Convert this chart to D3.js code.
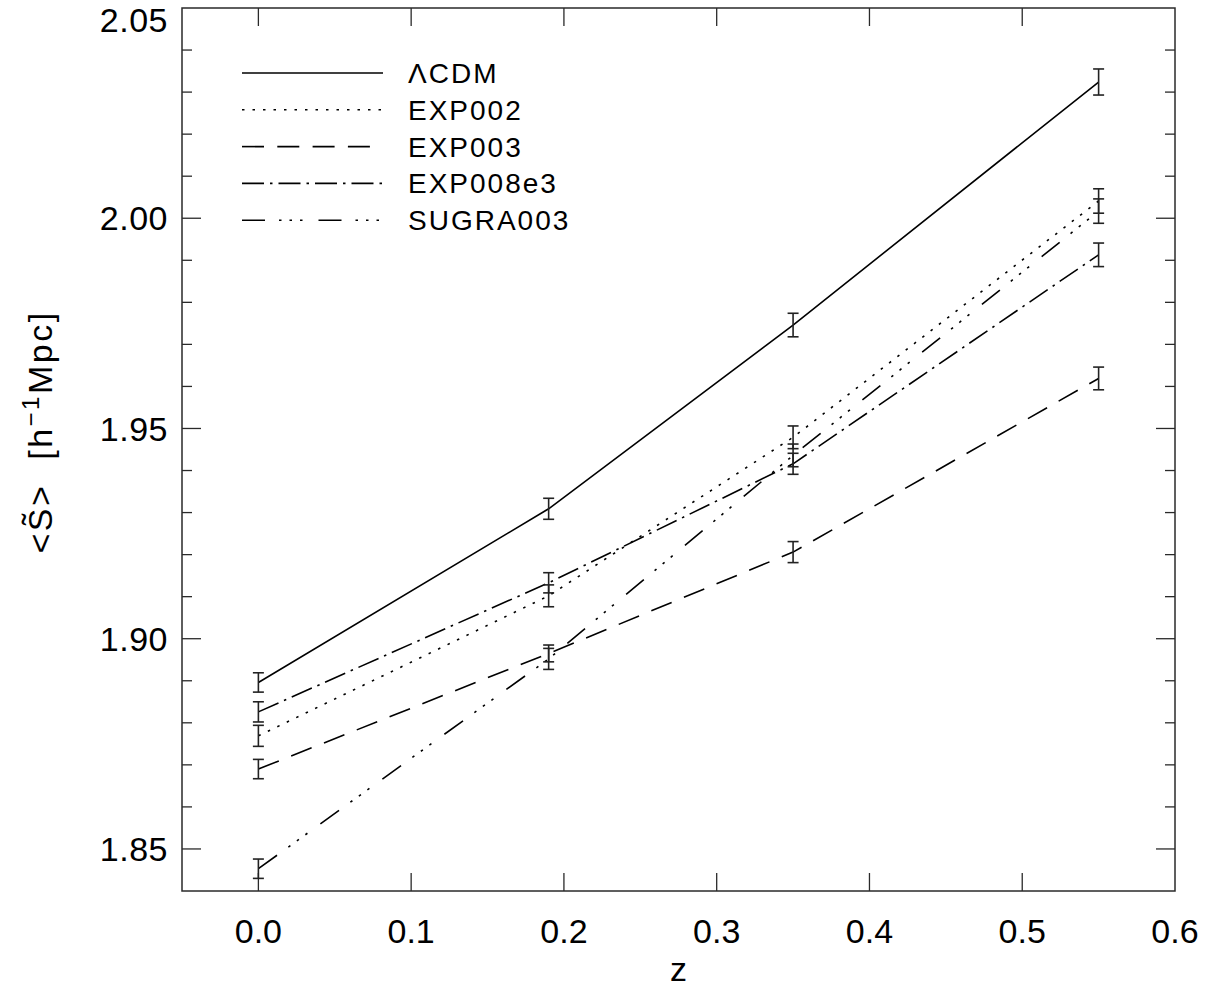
<!DOCTYPE html>
<html>
<head>
<meta charset="utf-8">
<script src="https://cdn.jsdelivr.net/npm/d3@7"></script>
<style>
  html, body { margin: 0; padding: 0; background: #fff; }
  svg { display: block; }
  text { font-family: "Liberation Sans", Arial, sans-serif; fill: #000; }
</style>
</head>
<body>
<div id="chart"></div>
<script>
// Redshift samples
const redshifts = [0.0, 0.19, 0.35, 0.55];

// Mean smoothed size <S~> per model [h^-1 Mpc]
const lcdmMean     = [1.8896, 1.9309, 1.9746, 2.0324];
const exp002Mean   = [1.8769, 1.9102, 1.9479, 2.0041];
const exp003Mean   = [1.8690, 1.8965, 1.9206, 1.9619];
const exp008e3Mean = [1.8826, 1.9133, 1.9416, 1.9913];
const sugra003Mean = [1.8453, 1.8952, 1.9436, 2.0017];

// One-sigma errors
const lcdmErr     = [0.0023, 0.0025, 0.0028, 0.0031];
const exp002Err   = [0.0025, 0.0026, 0.0027, 0.0029];
const exp003Err   = [0.0023, 0.0020, 0.0025, 0.0027];
const exp008e3Err = [0.0024, 0.0024, 0.0025, 0.0028];
const sugra003Err = [0.0023, 0.0025, 0.0027, 0.0029];

const modelNames = ["\u039BCDM", "EXP002", "EXP003", "EXP008e3", "SUGRA003"];

// Tick values
const xTicks = [0.0, 0.1, 0.2, 0.3, 0.4, 0.5, 0.6];
const yTicks = [1.85, 1.90, 1.95, 2.00, 2.05];

const series = [
  { name: modelNames[0], mean: lcdmMean,     err: lcdmErr,     dash: null },
  { name: modelNames[1], mean: exp002Mean,   err: exp002Err,   dash: "2.5,8" },
  { name: modelNames[2], mean: exp003Mean,   err: exp003Err,   dash: "22,13.3" },
  { name: modelNames[3], mean: exp008e3Mean, err: exp008e3Err, dash: "22,6,2.5,6" },
  { name: modelNames[4], mean: sugra003Mean, err: sugra003Err, dash: "23,14,2.5,8,2.5,8,2.5,16" }
];

const W = 1211, H = 989;
const plotL = 182, plotR = 1175, plotT = 8, plotB = 891;

const svg = d3.select("#chart").append("svg")
  .attr("width", W).attr("height", H);

const x = d3.scaleLinear().domain([-0.05, 0.6]).range([plotL, plotR]);
const y = d3.scaleLinear().domain([1.84, 2.05]).range([plotB, plotT]);

const axisColor = "#2a2a2a";

// Frame
svg.append("rect")
  .attr("x", plotL).attr("y", plotT)
  .attr("width", plotR - plotL).attr("height", plotB - plotT)
  .attr("fill", "none").attr("stroke", axisColor).attr("stroke-width", 1.5);

// Inward ticks on all four sides
const majorLen = 19, minorLen = 10, xTickLen = 18;
const yMinor = d3.range(1.84, 2.0501, 0.01).map(v => +v.toFixed(2));
const ticks = svg.append("g").attr("stroke", axisColor).attr("stroke-width", 1.3);
yMinor.forEach(v => {
  const isMajor = yTicks.some(t => Math.abs(t - v) < 1e-6);
  const len = isMajor ? majorLen : minorLen;
  if (v <= 1.8401 || v >= 2.0499) return;
  ticks.append("line").attr("x1", plotL).attr("x2", plotL + len).attr("y1", y(v)).attr("y2", y(v));
  ticks.append("line").attr("x1", plotR).attr("x2", plotR - len).attr("y1", y(v)).attr("y2", y(v));
});
xTicks.forEach(v => {
  if (v >= 0.5999) return;
  ticks.append("line").attr("x1", x(v)).attr("x2", x(v)).attr("y1", plotB).attr("y2", plotB - xTickLen);
  ticks.append("line").attr("x1", x(v)).attr("x2", x(v)).attr("y1", plotT).attr("y2", plotT + xTickLen);
});

// Tick labels (the topmost one is nudged down so it stays on the page)
const labelSize = 34;
svg.append("g").selectAll("text").data(yTicks).join("text")
  .attr("x", 168).attr("y", d => Math.max(y(d), 20))
  .attr("dy", "0.36em")
  .attr("text-anchor", "end")
  .attr("font-size", labelSize)
  .attr("letter-spacing", 0.5)
  .text(d => d3.format(".2f")(d));

svg.append("g").selectAll("text").data(xTicks).join("text")
  .attr("x", d => x(d)).attr("y", 943)
  .attr("text-anchor", "middle")
  .attr("font-size", labelSize)
  .text(d => d3.format(".1f")(d));

// Axis titles
svg.append("text")
  .attr("x", (plotL + plotR) / 2).attr("y", 981)
  .attr("text-anchor", "middle")
  .attr("font-size", labelSize)
  .text("z");

const yTitle = svg.append("text")
  .attr("transform", "translate(52,432) rotate(-90)")
  .attr("text-anchor", "middle")
  .attr("font-size", labelSize)
  .attr("letter-spacing", 2.5);
yTitle.append("tspan").text("<S\u0303>\u00A0\u00A0[h");
yTitle.append("tspan").attr("dy", -13).attr("font-size", 24).text("\u22121");
yTitle.append("tspan").attr("dy", 13).text("Mpc]");

// Model curves
const line = d3.line().x(d => x(d[0])).y(d => y(d[1]));
const plot = svg.append("g");
series.forEach(s => {
  const pts = redshifts.map((z, i) => [z, s.mean[i]]);
  plot.append("path")
    .attr("d", line(pts))
    .attr("fill", "none")
    .attr("stroke", "#000")
    .attr("stroke-width", 1.6)
    .attr("stroke-dasharray", s.dash);
});

// Error bars
const capHalf = 5.5;
const bars = svg.append("g").attr("stroke", "#222").attr("stroke-width", 1.6);
series.forEach(s => {
  redshifts.forEach((z, i) => {
    const cx = x(z), y0 = y(s.mean[i] - s.err[i]), y1 = y(s.mean[i] + s.err[i]);
    bars.append("line").attr("x1", cx).attr("x2", cx).attr("y1", y0).attr("y2", y1);
    bars.append("line").attr("x1", cx - capHalf).attr("x2", cx + capHalf).attr("y1", y0).attr("y2", y0);
    bars.append("line").attr("x1", cx - capHalf).attr("x2", cx + capHalf).attr("y1", y1).attr("y2", y1);
  });
});

// Legend
const legend = svg.append("g");
const legY0 = 73, legDy = 36.8;
series.forEach((s, i) => {
  const ly = legY0 + i * legDy;
  legend.append("line")
    .attr("x1", 242).attr("x2", 383).attr("y1", ly).attr("y2", ly)
    .attr("stroke", "#000").attr("stroke-width", 1.6)
    .attr("stroke-dasharray", s.dash);
  legend.append("text")
    .attr("x", 408).attr("y", ly).attr("dy", "0.36em")
    .attr("font-size", 28)
    .attr("letter-spacing", 2)
    .text(s.name);
});
</script>
</body>
</html>
